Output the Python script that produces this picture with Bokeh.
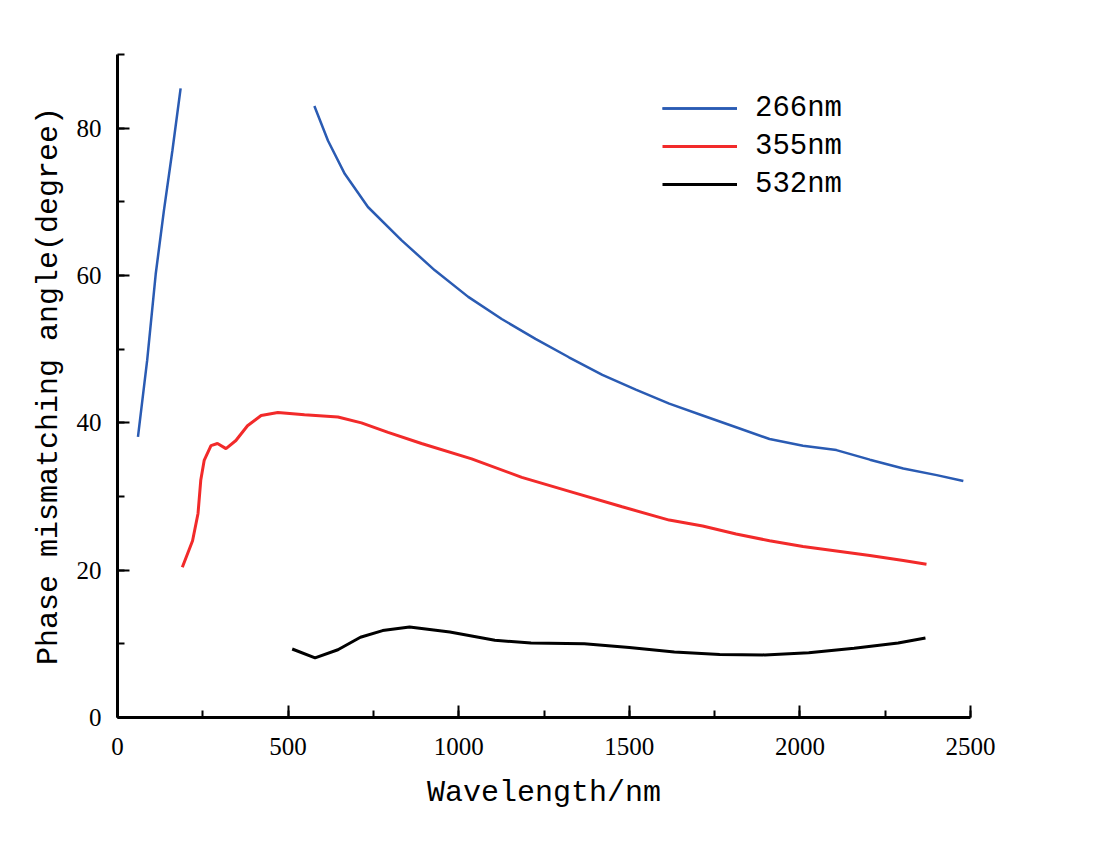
from bokeh.plotting import figure
from bokeh.models import Range1d, SingleIntervalTicker, Legend, LegendItem
from bokeh.embed import file_html
from bokeh.resources import INLINE

# Data
blue1_x = [60, 87, 112, 136, 161, 185]
blue1_y = [38.1, 48.5, 60.2, 68.8, 77.0, 85.4]

blue2_x = [577, 617, 666, 734, 832, 930, 1028, 1126, 1225, 1323, 1421, 1519, 1617,
           1715, 1813, 1911, 2009, 2107, 2205, 2303, 2401, 2479]
blue2_y = [83.0, 78.3, 73.8, 69.3, 64.8, 60.7, 57.1, 54.1, 51.4, 48.9, 46.5, 44.5, 42.6,
           41.0, 39.4, 37.8, 36.9, 36.3, 35.0, 33.8, 32.9, 32.1]

red_x = [190, 220, 236, 244, 254, 274, 293, 318, 347, 381, 421, 470, 548, 646, 715, 793,
         891, 1038, 1185, 1332, 1479, 1617, 1715, 1813, 1911, 2009, 2107, 2205, 2303, 2371]
red_y = [20.4, 24.0, 27.7, 32.2, 34.9, 36.9, 37.2, 36.5, 37.6, 39.6, 41.0, 41.4, 41.1, 40.8,
         40.0, 38.7, 37.2, 35.1, 32.6, 30.6, 28.6, 26.8, 26.0, 24.9, 24.0, 23.2, 22.6, 22.0,
         21.3, 20.8]

black_x = [512, 579, 646, 712, 777, 856, 974, 1106, 1212, 1368, 1500, 1632, 1765, 1897,
           2026, 2159, 2288, 2368]
black_y = [9.3, 8.1, 9.2, 10.9, 11.8, 12.3, 11.6, 10.5, 10.1, 10.0, 9.5, 8.9, 8.55, 8.5,
           8.8, 9.4, 10.1, 10.8]

series_labels = ["266nm", "355nm", "532nm"]
x_title = "Wavelength/nm"
y_title = "Phase mismatching angle(degree)"

W, H = 1100, 840
p = figure(width=W, height=H, output_backend="svg", toolbar_location=None,
           x_range=Range1d(0, 2500), y_range=Range1d(0, 90),
           min_border_left=117, min_border_right=130,
           min_border_top=54, min_border_bottom=123)
p.outline_line_color = None
p.xgrid.visible = False
p.ygrid.visible = False
p.background_fill_color = "white"
p.border_fill_color = "white"

label_font = "Liberation Mono"
tick_font = "Liberation Serif"

for ax in (p.xaxis[0], p.yaxis[0]):
    ax.axis_line_width = 3
    ax.axis_line_color = "black"
    ax.major_tick_in = 12
    ax.major_tick_out = 0
    ax.minor_tick_in = 7
    ax.minor_tick_out = 0
    ax.major_tick_line_width = 2
    ax.minor_tick_line_width = 2
    ax.major_tick_line_color = "black"
    ax.minor_tick_line_color = "black"
    ax.major_label_text_font = tick_font
    ax.major_label_text_font_size = "25px"
    ax.major_label_text_color = "black"
    ax.axis_label_text_font = label_font
    ax.axis_label_text_font_size = "30px"
    ax.axis_label_text_font_style = "normal"
    ax.axis_label_text_color = "black"

p.xaxis.ticker = SingleIntervalTicker(interval=500, num_minor_ticks=2)
p.yaxis.ticker = SingleIntervalTicker(interval=20, num_minor_ticks=2)
p.xaxis.axis_label = x_title
p.yaxis.axis_label = y_title
p.xaxis.major_label_standoff = 20
p.yaxis.major_label_standoff = 16
p.xaxis.axis_label_standoff = 18
p.yaxis.axis_label_standoff = 8

blue = "#2a5bb3"
red = "#f22a2a"

b1 = p.line(blue1_x, blue1_y, line_color=blue, line_width=2.5)
b2 = p.line(blue2_x, blue2_y, line_color=blue, line_width=2.5)
r1 = p.line(red_x, red_y, line_color=red, line_width=3)
k1 = p.line(black_x, black_y, line_color="black", line_width=3)

legend = Legend(items=[
    LegendItem(label=series_labels[0], renderers=[b1, b2]),
    LegendItem(label=series_labels[1], renderers=[r1]),
    LegendItem(label=series_labels[2], renderers=[k1]),
], location=(545, 514))
legend.border_line_color = None
legend.background_fill_alpha = 0
legend.padding = 0
legend.margin = 0
legend.spacing = 0
legend.glyph_width = 75
legend.glyph_height = 38
legend.label_height = 38
legend.label_standoff = 18
legend.label_text_font = label_font
legend.label_text_font_size = "29px"
legend.label_text_color = "black"
p.add_layout(legend, "center")

open("out.html", "w").write(file_html(p, INLINE))
